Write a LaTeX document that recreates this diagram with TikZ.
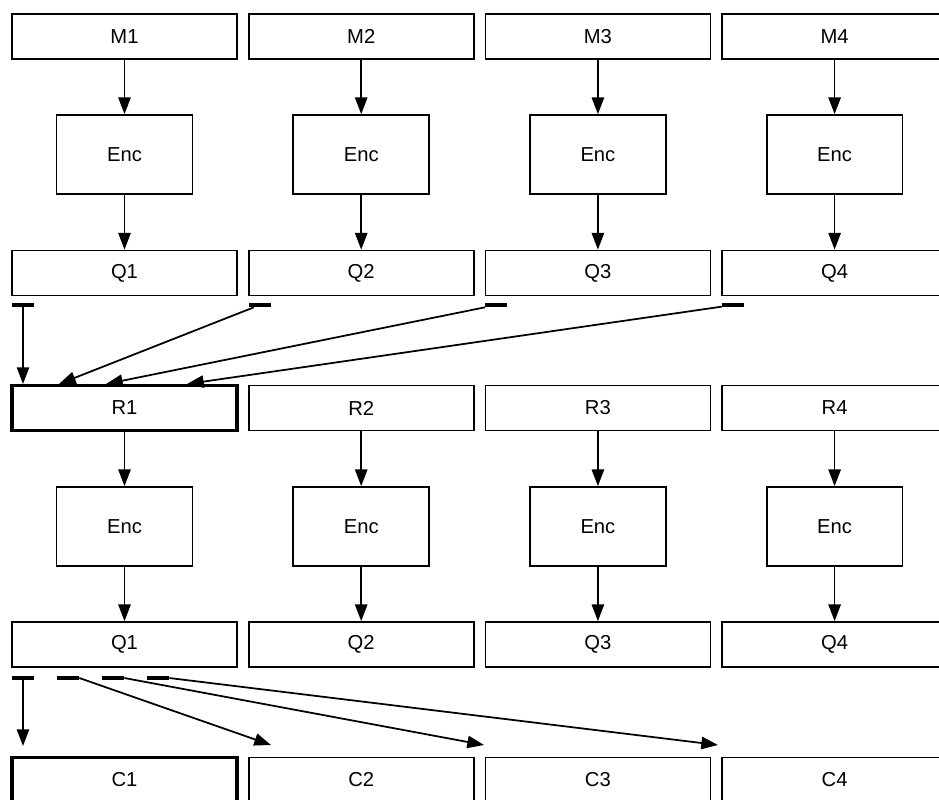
\documentclass[tikz,border=0pt]{standalone}
\usepackage{fontspec}
\setmainfont{Liberation Sans}
\usetikzlibrary{arrows.meta}

\begin{document}
\begin{tikzpicture}[x=0.02cm,y=-0.02cm,
    wide/.style={draw,line width=1pt,minimum width=4.5cm,minimum height=0.9cm,inner sep=0,font=\fontsize{11.5}{13}\selectfont},
    enc/.style={draw,line width=1pt,minimum width=2.72cm,minimum height=1.58cm,inner sep=0,font=\fontsize{11.5}{13}\selectfont},
    sel/.style={line width=2.2pt},
    bar/.style={fill,minimum width=0.44cm,minimum height=0.08cm,inner sep=0},
    flow/.style={line width=1pt,-{Triangle[length=9.5pt,width=7pt]}}]
    \useasboundingbox (0,0) rectangle (939,799);
    % four columns: message, encoder, quantised code, twice
    \foreach \i/\w in {1/sel,2/,3/,4/} {
      \pgfmathsetmacro{\cx}{124.5+236.7*(\i-1)}
      \pgfmathsetmacro{\tx}{23+236.7*(\i-1)}
      \pgfmathsetmacro{\bx}{23+45*(\i-1)}
      \node[wide] (m\i) at (\cx,36.5) {M\i};
      \node[enc] (e\i) at (\cx,154.5) {Enc};
      \node[wide] (q\i) at (\cx,273) {Q\i};
      \node[wide,\w] (r\i) at (\cx,408) {R\i};
      \node[enc] (f\i) at (\cx,526.5) {Enc};
      \node[wide] (p\i) at (\cx,644.5) {Q\i};
      \node[wide,\w] (c\i) at (\cx,780) {C\i};
      \draw[flow] (m\i) -- (e\i);
      \draw[flow] (e\i) -- (q\i);
      \draw[flow] (r\i) -- (f\i);
      \draw[flow] (f\i) -- (p\i);
      \node[bar] (tb\i) at (\tx,305) {};
      \node[bar] (bb\i) at (\bx,678) {};
    }
    % gather into R1
    \coordinate (a1) at (23,384);
    \coordinate (a2) at (59,384);
    \coordinate (a3) at (106,384);
    \coordinate (a4) at (187,384);
    \draw[flow] (tb1) -- (a1);
    \foreach \i in {2,3,4}
      \draw[flow] (tb\i) -- (a\i);
    % spread out of Q1
    \coordinate (b1) at (23,746);
    \coordinate (b2) at (271,745);
    \coordinate (b3) at (484,745);
    \coordinate (b4) at (718,745);
    \draw[flow] (bb1) -- (b1);
    \foreach \i in {2,3,4}
      \draw[flow] (bb\i.east) -- (b\i);
  \end{tikzpicture}
\end{document}
